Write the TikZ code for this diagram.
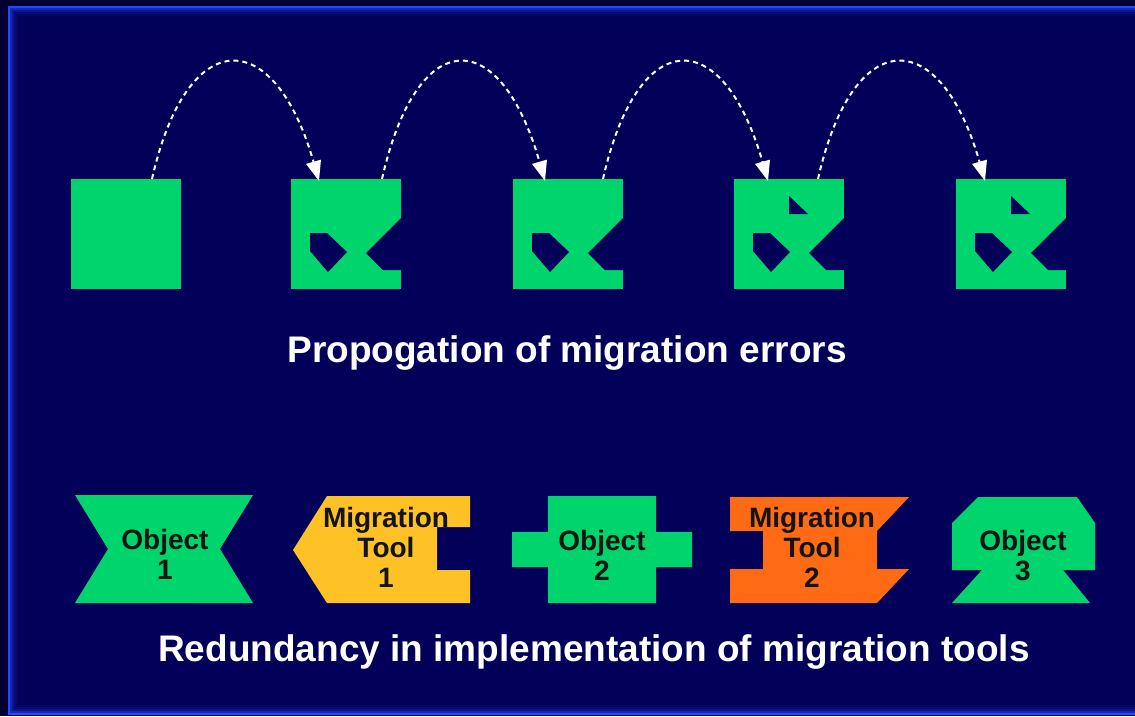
\documentclass[tikz,border=0pt]{standalone}
\usepackage{fontspec}
\setmainfont{Liberation Sans}
\usetikzlibrary{arrows.meta,calc}
\definecolor{bgnavy}{HTML}{03005A}
\definecolor{outerdark}{HTML}{020030}
\definecolor{frameblue}{HTML}{2448FF}
\definecolor{objgreen}{HTML}{00D46C}
\definecolor{toolyellow}{HTML}{FFC226}
\definecolor{toolorange}{HTML}{FF6B14}
\definecolor{labeldark}{HTML}{141414}
\begin{document}
\begin{tikzpicture}[x=1pt,y=-1pt,
  sq/.style={rectangle,fill=objgreen,minimum width=110pt,minimum height=110pt,inner sep=0pt,outer sep=0pt},
  cut/.style={fill=bgnavy},
  jump/.style={draw=white,line width=2pt,dash pattern=on 5pt off 4pt,-{Triangle[length=20pt,width=15pt]}},
  caption/.style={text=white,font=\fontsize{37}{44}\selectfont\bfseries,inner sep=0pt},
  lbl/.style={text=labeldark,align=center,font=\fontsize{28}{30}\selectfont\bfseries,inner sep=0pt},
  ]
\useasboundingbox (0,0) rectangle (1135,716);
% background and frame
\fill[outerdark] (0,0) rectangle (1135,716);
\fill[bgnavy] (8,6) rectangle (1160,716);
\foreach \i/\o in {0/1,2/0.55,4/0.3,6/0.15,8/0.07}
  \draw[frameblue,opacity=\o,line width=2pt] (9+\i,7+\i) rectangle (1170,714-\i);

% top row squares
\node[sq] (sq1) at (126,234) {};
\node[sq] (sq2) at (346,234) {};
\node[sq] (sq3) at (568,234) {};
\node[sq] (sq4) at (789,234) {};
\node[sq] (sq5) at (1011,234) {};
\foreach \s in {sq2,sq3,sq4,sq5}{
  \begin{scope}[shift={(\s.north west)}]
    \fill[cut] (19,54) -- (36,54) -- (56,73) -- (37,93) -- (19,72) -- cycle;
    \fill[cut] (111,38) -- (75,74) -- (92,91) -- (111,91) -- cycle;
  \end{scope}}
\foreach \s in {sq4,sq5}{
  \begin{scope}[shift={(\s.north west)}]
    \fill[cut] (55,17) -- (74,35) -- (55,35) -- cycle;
  \end{scope}}

% arrows
\coordinate (a1s) at ($(sq1.north west)+(81,0)$);
\coordinate (a1e) at ($(sq2.north west)+(28,2)$);
\coordinate (a2s) at ($(sq2.north west)+(91,0)$);
\coordinate (a2e) at ($(sq3.north west)+(32,2)$);
\coordinate (a3s) at ($(sq3.north west)+(90,0)$);
\coordinate (a3e) at ($(sq4.north west)+(34,2)$);
\coordinate (a4s) at ($(sq4.north west)+(84,0)$);
\coordinate (a4e) at ($(sq5.north west)+(29,2)$);
\foreach \k in {1,2,3,4}
  \draw[jump] (a\k s) .. controls ($(a\k s)+(35,-155)$) and ($(a\k e)+(-45,-157)$) .. (a\k e);

\node[caption,anchor=base] (cap1) at (567,362) {Propogation of migration errors};

% bottom row
\fill[objgreen] (75,495) -- (253,495) -- (220,549) -- (253,603) -- (75,603) -- (108,549) -- cycle;
\fill[toolyellow] (327,496) -- (470,496) -- (470,527) -- (437,527) -- (437,570) -- (470,570) -- (470,603) -- (327,603) -- (293,550) -- cycle;
\fill[objgreen] (548,496) -- (656,496) -- (656,532) -- (692,532) -- (692,567) -- (656,567) -- (656,603) -- (548,603) -- (548,567) -- (512,567) -- (512,532) -- (548,532) -- cycle;
\fill[toolorange] (730,497) -- (909,497) -- (877,531) -- (877,569) -- (909,569) -- (877,603) -- (730,603) -- (730,569) -- (763,569) -- (763,531) -- (730,531) -- cycle;
\fill[objgreen] (978,497) -- (1077,497) -- (1095,523) -- (1095,570) -- (1063,570) -- (1090,603) -- (952,603) -- (982,570) -- (952,570) -- (952,523) -- cycle;

\node[lbl] (o1) at (165,554) {Object\\1};
\node[lbl] (m1) at (386,547) {Migration\\Tool\\1};
\node[lbl] (o2) at (602,555) {Object\\2};
\node[lbl] (m2) at (812,547) {Migration\\Tool\\2};
\node[lbl] (o3) at (1023,556) {Object\\3};

\node[caption,anchor=base] (cap2) at (594,661) {Redundancy in implementation of migration tools};
\end{tikzpicture}
\end{document}
